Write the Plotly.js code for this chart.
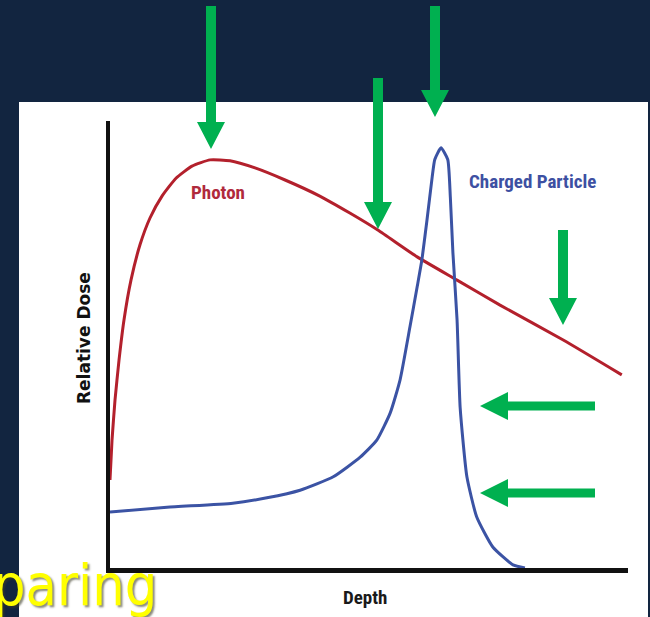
<!DOCTYPE html>
<html><head><meta charset="utf-8">
<script src="https://cdn.plot.ly/plotly-3.0.1.min.js"></script>
<style>html,body{margin:0;padding:0;background:#122540;overflow:hidden;}</style>
</head><body><div id="chart" style="width:650px;height:617px;"></div>
<script>
// ---- data (depth and dose in arbitrary 0-100 units) ----
const photonDepth = [0, 0.39, 0.97, 1.74, 2.70, 4.05, 5.79, 7.72, 10.04, 12.74, 15.83, 19.31, 23.17, 28.0, 33.8, 40.5, 46.3, 51.7, 59.3, 67.0, 75.3, 87.5, 98.8];
const photonDose  = [19.7, 28.6, 37.6, 46.5, 55.5, 64.4, 72.3, 78.3, 83.2, 87.2, 89.9, 91.3, 91.1, 89.5, 86.8, 83.2, 79.4, 75.6, 69.6, 64.4, 58.8, 51.0, 43.2];
const particleDepth = [0, 11.0, 23.7, 30.3, 36.7, 43.1, 48.3, 51.5, 54.1, 56.0, 57.9, 59.3, 60.2, 61.2, 62.2, 62.7, 63.9, 65.2, 65.7, 66.2, 67.0, 67.6, 68.9, 70.8, 73.9, 77.8, 80.1];
const particleDose  = [12.5, 13.6, 14.5, 15.7, 17.4, 20.4, 24.8, 28.6, 34.7, 42.1, 53.9, 62.9, 68.9, 77.9, 87.5, 91.4, 94.0, 91.4, 83.0, 70.5, 55.5, 35.8, 20.4, 11.4, 4.7, 0.7, 0];
const seriesNames = ["Photon", "Charged Particle"];
const xTitle = "Depth";
const yTitle = "Relative Dose";
const overlayWord = "paring";

// ---- layout helpers (pixel -> paper) ----
const L = 110, T = 121, W = 518, H = 447;
const fx = x => ((x - L) / W).toFixed(5);
const fy = y => ((T + H - y) / H).toFixed(5);
const GREEN = "#00b050";

function downArrow(cx, top, headTop, tip) {
  const s = 5, h = 14;
  return `M${fx(cx - s)},${fy(top)} L${fx(cx + s)},${fy(top)} L${fx(cx + s)},${fy(headTop)} L${fx(cx + h)},${fy(headTop)} L${fx(cx)},${fy(tip)} L${fx(cx - h)},${fy(headTop)} L${fx(cx - s)},${fy(headTop)} Z`;
}
function leftArrow(cy, right, headStart, tip) {
  const s = 4.5, h = 14;
  return `M${fx(right)},${fy(cy - s)} L${fx(right)},${fy(cy + s)} L${fx(headStart)},${fy(cy + s)} L${fx(headStart)},${fy(cy + h)} L${fx(tip)},${fy(cy)} L${fx(headStart)},${fy(cy - h)} L${fx(headStart)},${fy(cy - s)} Z`;
}
const arrowShape = p => ({type: "path", xref: "paper", yref: "paper", path: p, fillcolor: GREEN, line: {width: 0}, layer: "above"});

const traces = [
  {x: photonDepth, y: photonDose, name: seriesNames[0], mode: "lines",
   line: {color: "#b3202c", width: 3, shape: "spline", smoothing: 0.5}, hoverinfo: "skip"},
  {x: particleDepth, y: particleDose, name: seriesNames[1], mode: "lines",
   line: {color: "#3b53a4", width: 3, shape: "spline", smoothing: 0.5}, hoverinfo: "skip"}
];

const labelFont = "Liberation Sans Narrow, Roboto Condensed, Lato, sans-serif";

const layout = {
  width: 650, height: 617,
  margin: {l: L, r: 650 - L - W, t: T, b: 617 - T - H, pad: 0},
  paper_bgcolor: "#122540",
  plot_bgcolor: "#ffffff",
  showlegend: false,
  xaxis: {range: [0, 100], showline: true, linecolor: "#111111", linewidth: 5, showgrid: false, zeroline: false, showticklabels: false, ticks: "", fixedrange: true},
  yaxis: {range: [0, 100], showline: true, linecolor: "#111111", linewidth: 4, showgrid: false, zeroline: false, showticklabels: false, ticks: "", fixedrange: true},
  shapes: [
    {type: "rect", xref: "paper", yref: "paper", x0: fx(19), x1: fx(648), y0: fy(640), y1: fy(102), fillcolor: "#ffffff", line: {width: 0}, layer: "below"},
    arrowShape(downArrow(211, 6, 122, 149)),
    arrowShape(downArrow(378, 78, 202, 229)),
    arrowShape(downArrow(435, 6, 90, 117)),
    arrowShape(downArrow(563, 230, 298, 325)),
    arrowShape(leftArrow(406, 595, 508, 480)),
    arrowShape(leftArrow(493, 595, 508, 480))
  ],
  annotations: [
    {xref: "paper", yref: "paper", x: fx(218), y: fy(192), text: "<b>" + seriesNames[0] + "</b>", showarrow: false, xanchor: "center", yanchor: "middle",
     font: {family: labelFont, size: 19, color: "#b02a3c"}},
    {xref: "paper", yref: "paper", x: fx(533), y: fy(181), text: "<b>" + seriesNames[1] + "</b>", showarrow: false, xanchor: "center", yanchor: "middle",
     font: {family: labelFont, size: 19, color: "#3d50a2"}},
    {xref: "paper", yref: "paper", x: fx(84), y: fy(338), text: "<b>" + yTitle + "</b>", textangle: -90, showarrow: false, xanchor: "center", yanchor: "middle",
     font: {family: "DejaVu Sans, sans-serif", size: 17, color: "#111111"}},
    {xref: "paper", yref: "paper", x: fx(365), y: fy(598), text: "<b>" + xTitle + "</b>", showarrow: false, xanchor: "center", yanchor: "middle",
     font: {family: labelFont, size: 19, color: "#1a1a1a"}},
    {xref: "paper", yref: "paper", x: fx(159), y: fy(585), text: overlayWord, showarrow: false, xanchor: "right", yanchor: "middle",
     font: {family: "DejaVu Sans Condensed, DejaVu Sans, sans-serif", size: 57, color: "#ffff00", shadow: "2px 2px 2px rgba(60,60,40,0.6)"}}
  ]
};

Plotly.newPlot("chart", traces, layout, {staticPlot: true, displayModeBar: false});
</script>
</body></html>
